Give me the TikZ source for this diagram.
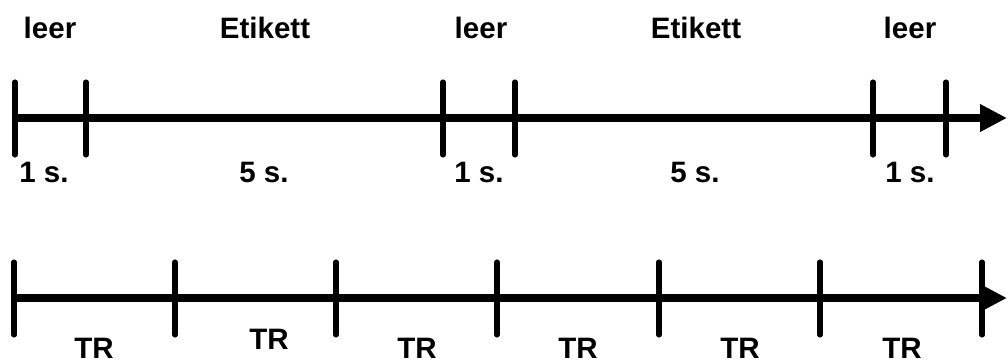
\documentclass[tikz,border=0pt]{standalone}
\usepackage{fontspec}
\setmainfont{Liberation Sans}
\usetikzlibrary{arrows.meta}
\begin{document}
\begin{tikzpicture}[x=0.02cm,y=-0.02cm,
  axis/.style={line width=4pt,-{Triangle[length=0.54cm,width=0.52cm]}},
  tick/.style={line width=2.9pt,line cap=round},
  lbl/.style={anchor=base,inner sep=0pt,font=\bfseries\fontsize{16.8pt}{18pt}\selectfont}]
\useasboundingbox (0,0) rectangle (1008,362);
% top timeline
\coordinate (a0) at (15,118);
\coordinate (aend) at (1007,118);
\draw[axis] (a0) -- (aend);
\foreach \x [count=\i] in {15,86,443,515,873,946}{
  \coordinate (t\i) at (\x,118);
  \draw[tick] (\x,82) -- (\x,155);
}
\node[lbl] (l1) at (50,38) {leer};
\node[lbl] (e1) at (265,38) {Etikett};
\node[lbl] (l2) at (481,38) {leer};
\node[lbl] (e2) at (696,38) {Etikett};
\node[lbl] (l3) at (910,38) {leer};
\node[lbl] (s1) at (44,182) {1 s.};
\node[lbl] (s2) at (264,182) {5 s.};
\node[lbl] (s3) at (479,182) {1 s.};
\node[lbl] (s4) at (695,182) {5 s.};
\node[lbl] (s5) at (910,182) {1 s.};
% bottom timeline
\coordinate (b0) at (14,298);
\coordinate (bend) at (1007,298);
\draw[axis] (b0) -- (bend);
\foreach \x [count=\i] in {14,175,336,497,659,820,982}{
  \coordinate (u\i) at (\x,298);
  \draw[tick] (\x,262) -- (\x,335);
}
\node[lbl] (tr1) at (94,358) {TR};
\node[lbl] (tr2) at (269,349) {TR};
\node[lbl] (tr3) at (417,358) {TR};
\node[lbl] (tr4) at (578,358) {TR};
\node[lbl] (tr5) at (740,358) {TR};
\node[lbl] (tr6) at (902,358) {TR};
\end{tikzpicture}
\end{document}
